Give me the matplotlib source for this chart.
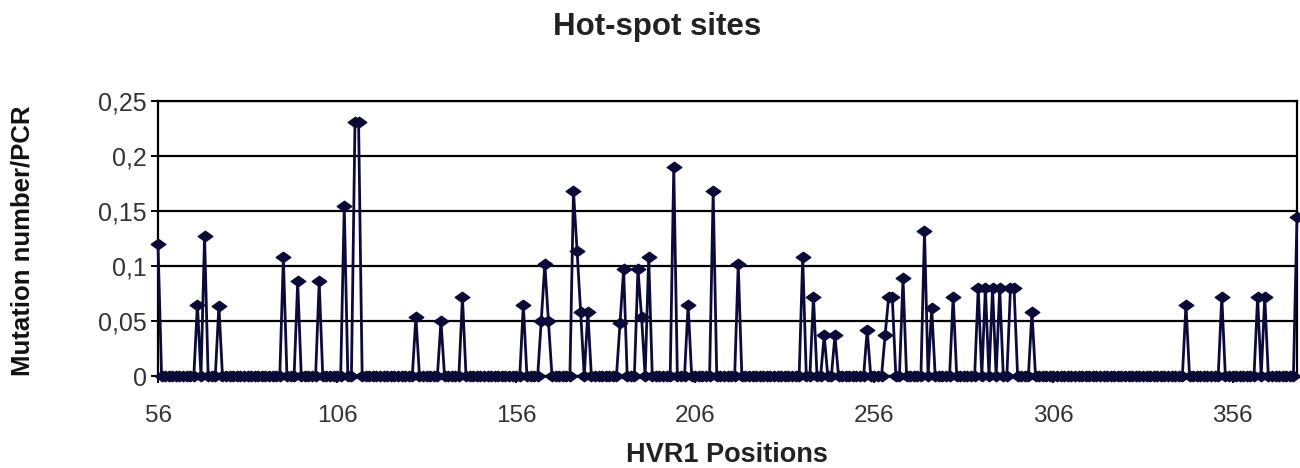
import numpy as np
import matplotlib
matplotlib.use("Agg")
import matplotlib.pyplot as plt
from matplotlib.path import Path

plt.rcParams['font.family'] = ['Liberation Sans', 'DejaVu Sans']

# ---- data ----
first_position = 56
last_position = 374
peak_positions = [56, 67, 69, 73, 91, 95, 101, 108, 111, 112, 128, 135, 141, 158,
                  163, 164, 165, 172, 173, 174, 176, 185, 186, 190, 191, 193, 200,
                  204, 211, 218, 236, 239, 242, 245, 254, 259, 260, 261, 264, 270,
                  272, 278, 285, 287, 289, 291, 294, 295, 300, 343, 353, 363, 365, 374]
peak_values = [0.12, 0.065, 0.127, 0.064, 0.108, 0.086, 0.086, 0.155, 0.231, 0.231,
               0.054, 0.05, 0.072, 0.065, 0.05, 0.102, 0.05, 0.168, 0.114, 0.058,
               0.058, 0.048, 0.097, 0.097, 0.054, 0.108, 0.19, 0.065, 0.168, 0.102,
               0.108, 0.072, 0.037, 0.037, 0.042, 0.037, 0.072, 0.072, 0.089, 0.132,
               0.062, 0.072, 0.08, 0.08, 0.08, 0.08, 0.08, 0.08, 0.058, 0.065,
               0.072, 0.072, 0.072, 0.145]
x_ticks = [56, 106, 156, 206, 256, 306, 356]
y_ticks = [0, 0.05, 0.1, 0.15, 0.2, 0.25]
y_tick_labels = ['0', '0,05', '0,1', '0,15', '0,2', '0,25']
title = "Hot-spot sites"
x_label = "HVR1 Positions"
y_label = "Mutation number/PCR"

positions = np.arange(first_position, last_position + 1)
values = np.zeros(len(positions))
for p, v in zip(peak_positions, peak_values):
    values[p - first_position] = v

# ---- figure ----
W, H = 1300, 468
fig = plt.figure(figsize=(W / 100, H / 100), dpi=100)
fig.patch.set_facecolor('white')
ax = fig.add_axes([158 / W, 1 - 376 / H, (1297 - 158) / W, (376 - 101) / H])

diamond = Path([(-1, 0), (0, 0.72), (1, 0), (0, -0.72), (-1, 0)],
               [Path.MOVETO, Path.LINETO, Path.LINETO, Path.LINETO, Path.CLOSEPOLY])

col = '#0b0b3a'
ax.plot(positions, values, color=col, lw=2.0, marker=diamond, markersize=10.5,
        markerfacecolor=col, markeredgecolor=col, clip_on=False, zorder=3)

ax.set_xlim(first_position, last_position)
ax.set_ylim(0, 0.25)
ax.set_xticks(x_ticks)
ax.set_xticklabels([str(t) for t in x_ticks])
ax.set_yticks(y_ticks)
ax.set_yticklabels(y_tick_labels)
ax.yaxis.grid(True, color='black', lw=1.6)
ax.set_axisbelow(True)
for s in ax.spines.values():
    s.set_color('black')
    s.set_linewidth(1.6)
ax.tick_params(axis='x', direction='out', length=5, width=1.4, pad=16,
               labelsize=17.5, colors='black')
ax.tick_params(axis='y', direction='out', length=5, width=1.4, pad=3,
               labelsize=18, colors='black')
for lab in ax.get_xticklabels() + ax.get_yticklabels():
    lab.set_color('#333333')

fig.text(657 / W, 1 - 27 / H, title, ha='center', va='center',
         fontsize=22.5, fontweight='bold', color='#222222')
fig.text(727 / W, 1 - 455 / H, x_label, ha='center', va='center',
         fontsize=19.5, fontweight='bold', color='#222222')
fig.text(23 / W, 1 - 241 / H, y_label, ha='center', va='center', rotation=90,
         fontsize=18.5, fontweight='bold', color='#111111')

fig.savefig('out.png', dpi=100, facecolor='white')
